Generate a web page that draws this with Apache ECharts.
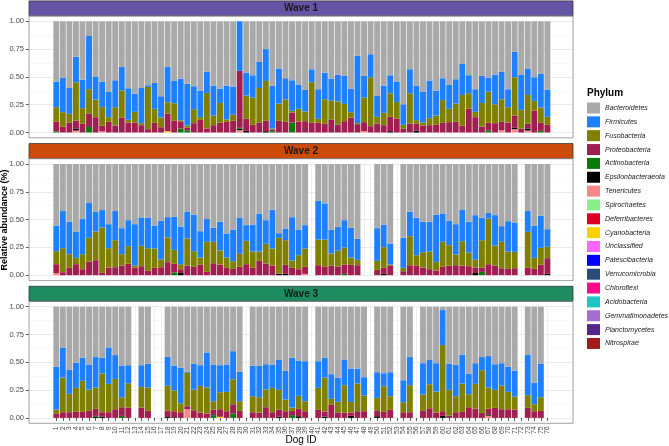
<!DOCTYPE html>
<html><head><meta charset="utf-8">
<script src="https://cdn.jsdelivr.net/npm/echarts@6/dist/echarts.min.js"></script>
<style>html,body{margin:0;padding:0;background:#fff}#c{width:669px;height:446px}</style>
</head><body><div id="c"></div>
<script>
// ---------- DATA ----------
const dogIds = ['1','2','3','4','5','6','7','8','9','10','11','12','13','14','15','16','17','18','19','20','21','22','23','24','25','26','27','28','29','30','31','32','33','34','35','36','37','38','39','40','41','42','43','44','45','46','47','48','49','50','51','52','53','54','55','56','57','58','59','60','61','62','63','64','65','66','67','68','69','70','71','72','73','74','75','76'];
const waves = ['Wave 1','Wave 2','Wave 3'];
const yTicks = [0, 0.25, 0.5, 0.75, 1];
const phyla = ['Bacteroidetes','Firmicutes','Fusobacteria','Proteobacteria','Actinobacteria','Epsilonbacteraeota','Tenericutes','Spirochaetes','Deferribacteres','Cyanobacteria','Unclassified','Patescibacteria','Verrucomicrobia','Chloroflexi','Acidobacteria','Gemmatimonadetes','Planctomycetes','Nitrospirae'];

// cumulative upper edges (top of Firmicutes, top of Fusobacteria, top of Proteobacteria)
const w1FirmTop = [0.458,0.49,0.40,0.68,0.476,0.868,0.50,0.455,0.365,0.47,0.59,0.398,0.35,0.40,0.425,0.446,0.326,0.59,0.464,0.485,0.44,0.416,0.377,0.548,0.422,0.395,0.422,0.413,1.0,0.539,0.515,0.635,0.75,0.42,0.575,0.488,0.47,0.428,0.383,0.569,0.389,0.539,0.485,0.52,0.509,0.392,0.689,0.509,0.704,0.329,0.422,0.515,0.458,0.254,0.569,0.419,0.368,0.467,0.377,0.488,0.428,0.479,0.617,0.515,0.389,0.509,0.49,0.518,0.545,0.389,0.725,0.518,0.572,0.497,0.527,0.386];
const w1FusoTop = [0.228,0.183,0.168,0.452,0.219,0.39,0.296,0.228,0.138,0.228,0.377,0.114,0.186,0.084,0.41,0.213,0.135,0.272,0.263,0.11,0.063,0.21,0.138,0.356,0.153,0.266,0.117,0.159,0.554,0.332,0.314,0.40,0.464,0.035,0.26,0.296,0.195,0.213,0.189,0.452,0.123,0.299,0.287,0.28,0.257,0.183,0.084,0.314,0.497,0.141,0.177,0.353,0.275,0.069,0.353,0.111,0.09,0.129,0.153,0.293,0.213,0.26,0.338,0.353,0.186,0.266,0.368,0.254,0.299,0.228,0.497,0.204,0.338,0.284,0.225,0.141];
const w1ProteoTop = [0.096,0.051,0.087,0.108,0.078,0.168,0.138,0.06,0.096,0.063,0.132,0.09,0.09,0.066,0.03,0.087,0.048,0.168,0.105,0.10,0.045,0.084,0.114,0.036,0.066,0.09,0.096,0.105,0.554,0.123,0.069,0.087,0.105,0.025,0.105,0.096,0.18,0.099,0.102,0.087,0.087,0.078,0.114,0.072,0.102,0.135,0.075,0.093,0.057,0.081,0.066,0.141,0.126,0.036,0.081,0.078,0.063,0.066,0.069,0.087,0.093,0.096,0.06,0.213,0.138,0.054,0.087,0.084,0.096,0.09,0.153,0.036,0.078,0.195,0.087,0.069];

const w2FirmTop = [0.447,0.577,0.48,0.393,0.505,0.649,0.568,0.586,0.459,0.577,0.423,0.495,0.459,0.519,0.519,0.447,0.489,0.522,0.525,0.438,0.573,0.543,0.396,0.505,0.426,0.48,0.375,0.411,0.519,0.45,0.456,0.55,0.495,0.589,0.378,0.42,0.522,0.408,0.45,null,0.667,0.646,0.408,0.435,0.495,0.426,0.327,null,null,0.423,0.453,0.285,null,0.336,0.571,0.517,0.48,0.48,0.543,0.556,0.489,0.459,0.586,0.48,0.54,0.517,0.559,0.54,0.441,0.486,0.474,null,0.577,0.447,0.535,0.414];
const w2FusoTop = [0.216,0.243,0.189,0.156,0.189,0.336,0.393,0.429,0.243,0.315,0.189,0.261,0.087,0.264,0.243,0.24,0.141,0.339,0.228,0.099,0.33,0.216,0.159,0.30,0.30,0.222,0.159,0.126,0.192,0.309,0.213,0.213,0.282,0.24,0.336,0.315,0.132,0.18,0.24,null,0.321,0.321,0.195,0.22,0.249,0.159,0.138,null,null,0.129,0.252,0.096,null,0.066,0.351,0.18,0.207,0.213,0.12,0.30,0.27,0.186,0.306,0.204,0.141,0.315,0.51,0.267,0.30,0.213,0.21,null,0.39,0.156,0.246,0.255];
const w2ProteoTop = [0.099,0.027,0.066,0.099,0.054,0.123,0.135,0.021,0.069,0.072,0.087,0.105,0.069,0.081,0.039,0.066,0.072,0.117,0.102,0.054,0.087,0.075,0.093,0.03,0.108,0.096,0.066,0.057,0.075,0.099,0.066,0.129,0.105,0.087,0.015,0.093,0.066,0.054,0.075,null,0.09,0.075,0.087,0.078,0.096,0.093,0.09,null,null,0.048,0.066,0.084,null,0.036,0.09,0.084,0.069,0.054,0.042,0.075,0.087,0.09,0.087,0.081,0.069,0.069,0.099,0.087,0.063,0.057,0.063,null,0.066,0.057,0.096,0.153];

const w3FirmTop = [0.459,0.63,0.432,0.495,0.54,0.48,0.547,0.54,0.634,0.565,0.471,0.474,null,0.474,0.486,null,null,0.55,0.471,0.45,0.414,0.489,0.474,0.589,0.48,0.474,0.48,0.60,0.414,null,0.468,0.468,0.483,0.48,0.522,0.423,0.54,0.513,0.51,null,0.51,0.54,0.393,0.363,0.525,0.444,0.444,0.366,null,0.411,0.402,0.411,null,0.339,0.547,null,0.492,0.525,0.492,0.97,0.489,0.48,0.568,0.396,0.492,0.547,0.556,0.483,0.492,0.459,0.423,null,0.57,0.315,0.489,null];
const w3FusoTop = [0.075,0.363,0.216,0.27,0.333,0.255,0.273,0.40,0.306,0.351,0.186,0.312,null,0.279,0.273,null,null,0.288,0.246,0.132,0.405,0.255,0.288,0.273,0.15,0.231,0.234,0.348,0.15,null,0.195,0.186,0.255,0.27,0.252,0.165,0.093,0.198,0.15,null,0.27,0.363,0.171,0.145,0.294,0.144,0.309,0.201,null,0.18,0.285,0.195,null,0.141,0.294,null,0.21,0.303,0.237,0.655,0.252,0.195,0.309,0.213,0.306,0.429,0.273,0.252,0.291,0.234,0.192,null,0.204,0.123,0.186,null];
const w3ProteoTop = [0.036,0.051,0.051,0.054,0.054,0.063,0.081,0.051,0.051,0.078,0.096,0.093,null,0.093,0.063,null,null,0.066,0.06,0.051,0.105,0.069,0.048,0.039,0.075,0.078,0.06,0.123,0.063,null,0.051,0.048,0.096,0.051,0.075,0.06,0.063,0.081,0.06,null,0.072,0.057,0.117,0.05,0.048,0.048,0.06,0.06,null,0.063,0.054,0.072,null,0.051,0.051,null,0.063,0.087,0.048,0.06,0.021,0.051,0.054,0.096,0.084,0.045,0.084,0.09,0.078,0.078,0.075,null,0.09,0.06,0.063,null];

// minor phyla at the bottom of the bars: [dog, value]
const w1Actino = [[1,0.01],[6,0.05],[20,0.036],[21,0.02],[29,0.008],[34,0.012],[37,0.09],[67,0.02],[75,0.015]];
const w1Epsilon = [[4,0.018],[29,0.012],[30,0.015],[33,0.012],[52,0.012],[56,0.018],[71,0.012],[73,0.018]];
const w1Teneri = [[4,0.018],[8,0.01],[29,0.022],[48,0.012],[69,0.02],[71,0.03],[73,0.018]];
const w1Cyano = [[18,0.012]];
const w2Actino = [[19,0.025],[45,0.012],[66,0.03]];
const w2Epsilon = [[20,0.02],[35,0.012],[36,0.012],[51,0.012],[65,0.02],[76,0.012]];
const w2Teneri = [[1,0.02],[39,0.012]];
const w2Cyano = [];
const w3Actino = [[7,0.008],[11,0.012],[25,0.025],[28,0.039],[37,0.025]];
const w3Epsilon = [[7,0.01],[8,0.01],[11,0.006],[18,0.008],[19,0.006],[35,0.01],[38,0.015],[42,0.012],[46,0.02],[50,0.015],[60,0.018],[67,0.012]];
const w3Teneri = [[21,0.078],[67,0.02]];
const w3Cyano = [[26,0.01]];

// ---------- STYLE ----------
const colors = {
  Bacteroidetes:'#A9A9A9', Firmicutes:'#1E80FF', Fusobacteria:'#808000', Proteobacteria:'#A01E50',
  Actinobacteria:'#0B7A0B', Epsilonbacteraeota:'#000000', Tenericutes:'#F88888', Spirochaetes:'#88EE88',
  Deferribacteres:'#DD0022', Cyanobacteria:'#FFD000', Unclassified:'#FF66FF', Patescibacteria:'#0000FF',
  Verrucomicrobia:'#2A4B7C', Chloroflexi:'#FF0A8C', Acidobacteria:'#1CC6C6', Gemmatimonadetes:'#A46FD0',
  Planctomycetes:'#56248A', Nitrospirae:'#A11C1C'
};
const stripColors = ['#6354A5','#CD4B0A','#1C8C60'];
const FONT = 'Liberation Sans, Arial, Helvetica, sans-serif';

const waveData = [
  {firm:w1FirmTop, fuso:w1FusoTop, prot:w1ProteoTop, small:{Actinobacteria:w1Actino, Epsilonbacteraeota:w1Epsilon, Tenericutes:w1Teneri, Cyanobacteria:w1Cyano}},
  {firm:w2FirmTop, fuso:w2FusoTop, prot:w2ProteoTop, small:{Actinobacteria:w2Actino, Epsilonbacteraeota:w2Epsilon, Tenericutes:w2Teneri, Cyanobacteria:w2Cyano}},
  {firm:w3FirmTop, fuso:w3FusoTop, prot:w3ProteoTop, small:{Actinobacteria:w3Actino, Epsilonbacteraeota:w3Epsilon, Tenericutes:w3Teneri, Cyanobacteria:w3Cyano}}
];

function buildValues(wd) {
  const out = {};
  phyla.forEach(p => out[p] = []);
  const smallMap = {};
  Object.keys(wd.small).forEach(p => {
    smallMap[p] = {};
    wd.small[p].forEach(([d, v]) => smallMap[p][d] = v);
  });
  for (let i = 0; i < dogIds.length; i++) {
    const d = i + 1;
    if (wd.firm[i] == null) { phyla.forEach(p => out[p].push(null)); continue; }
    let smallSum = 0;
    phyla.slice(4).forEach(p => {
      const v = (smallMap[p] && smallMap[p][d]) || 0;
      smallSum += v;
      out[p].push(v);
    });
    out.Proteobacteria.push(Math.max(0, wd.prot[i] - smallSum));
    out.Fusobacteria.push(Math.max(0, wd.fuso[i] - wd.prot[i]));
    out.Firmicutes.push(Math.max(0, wd.firm[i] - wd.fuso[i]));
    out.Bacteroidetes.push(Math.max(0, 1 - wd.firm[i]));
  }
  return out;
}

// ---------- LAYOUT ----------
const PANEL_L = 29, PANEL_R = 573;
const ONE_Y = [21.3, 164, 306.7];
const PH = 111.2;
const PAD = 5.4;
const STEP = 6.548;
const DATA_L = 56.3 - STEP / 2;
const DATA_W = STEP * dogIds.length;

const grids = [], xAxes = [], yAxes = [], series = [], graphics = [];
waves.forEach((w, wi) => {
  const top = ONE_Y[wi];
  grids.push({left: PANEL_L, top: top, width: PANEL_R - PANEL_L, height: PH, containLabel: false, outerBoundsMode: 'none'});
  grids.push({left: DATA_L, top: top, width: DATA_W, height: PH, containLabel: false, outerBoundsMode: 'none'});
  xAxes.push({gridIndex: 2*wi, type: 'value', min: 0, max: 1, show: false});
  xAxes.push({
    gridIndex: 2*wi+1, type: 'category', data: dogIds, boundaryGap: true,
    offset: PAD,
    axisLine: {show: false},
    axisTick: {show: wi === 2, alignWithLabel: true, length: 3, lineStyle: {color: '#333', width: 0.8}},
    axisLabel: {show: wi === 2, interval: 0, rotate: 90, fontSize: 7, color: '#4D4D4D', margin: 3, fontFamily: FONT},
    splitLine: {show: true, alignWithLabel: true, lineStyle: {color: '#EBEBEB', width: 0.8}}
  });
  yAxes.push({
    gridIndex: 2*wi, type: 'value', min: 0, max: 1, interval: 0.25,
    axisLine: {show: false},
    axisTick: {show: true, length: 3, lineStyle: {color: '#333', width: 0.8}},
    axisLabel: {fontSize: 7.5, color: '#4D4D4D', margin: 5, fontFamily: FONT,
      formatter: v => yTicks.indexOf(v) >= 0 ? v.toFixed(2) : ''},
    splitLine: {show: true, lineStyle: {color: '#EBEBEB', width: 1}},
    minorTick: {show: false, splitNumber: 2},
    minorSplitLine: {show: true, lineStyle: {color: '#F4F4F4', width: 0.6}}
  });
  yAxes.push({gridIndex: 2*wi+1, type: 'value', min: 0, max: 1, show: false, splitLine: {show: false}});

  const vals = buildValues(waveData[wi]);
  phyla.slice().reverse().forEach(p => {
    series.push({
      type: 'bar', name: p, stack: 'w' + wi,
      xAxisIndex: 2*wi+1, yAxisIndex: 2*wi+1,
      data: vals[p], barCategoryGap: '10%',
      itemStyle: {color: colors[p]},
      emphasis: {disabled: true}, animation: false, clip: false
    });
  });

  const bTop = top - PAD, bBot = top + PH + PAD;
  graphics.push({type: 'rect', shape: {x: PANEL_L, y: bTop - 15, width: PANEL_R - PANEL_L, height: 15},
    style: {fill: stripColors[wi], stroke: '#333', lineWidth: 0.8}, z: 10});
  graphics.push({type: 'text', x: (PANEL_L + PANEL_R) / 2, y: bTop - 7.5,
    style: {text: w, fill: '#1A1A1A', font: 'bold 10px ' + FONT, align: 'center', verticalAlign: 'middle'}, z: 11});
  graphics.push({type: 'rect', shape: {x: PANEL_L, y: bTop, width: PANEL_R - PANEL_L, height: bBot - bTop},
    style: {fill: 'none', stroke: '#8C8C8C', lineWidth: 0.8}, z: 10});
});

graphics.push({type: 'text', x: 5, y: 220, rotation: Math.PI / 2,
  style: {text: 'Relative abundance (%)', fill: '#000', font: 'bold 9px ' + FONT, align: 'center', verticalAlign: 'middle'}});
graphics.push({type: 'text', x: 301, y: 440,
  style: {text: 'Dog ID', fill: '#000', font: '10px ' + FONT, align: 'center', verticalAlign: 'middle'}});
graphics.push({type: 'text', x: 587, y: 93.5,
  style: {text: 'Phylum', fill: '#000', font: 'bold 10px ' + FONT, align: 'left', verticalAlign: 'middle'}});

const chart = echarts.init(document.getElementById('c'), null, {renderer: 'canvas'});
chart.setOption({
  animation: false,
  backgroundColor: '#fff',
  grid: grids, xAxis: xAxes, yAxis: yAxes, series: series,
  legend: {
    data: phyla, orient: 'vertical', left: 587, top: 102.5,
    itemWidth: 13, itemHeight: 11, itemGap: 2.85, icon: 'rect', selectedMode: false,
    padding: 0,
    textStyle: {fontSize: 7, fontStyle: 'italic', color: '#1A1A1A', fontFamily: FONT}
  },
  graphic: graphics
});
</script></body></html>
